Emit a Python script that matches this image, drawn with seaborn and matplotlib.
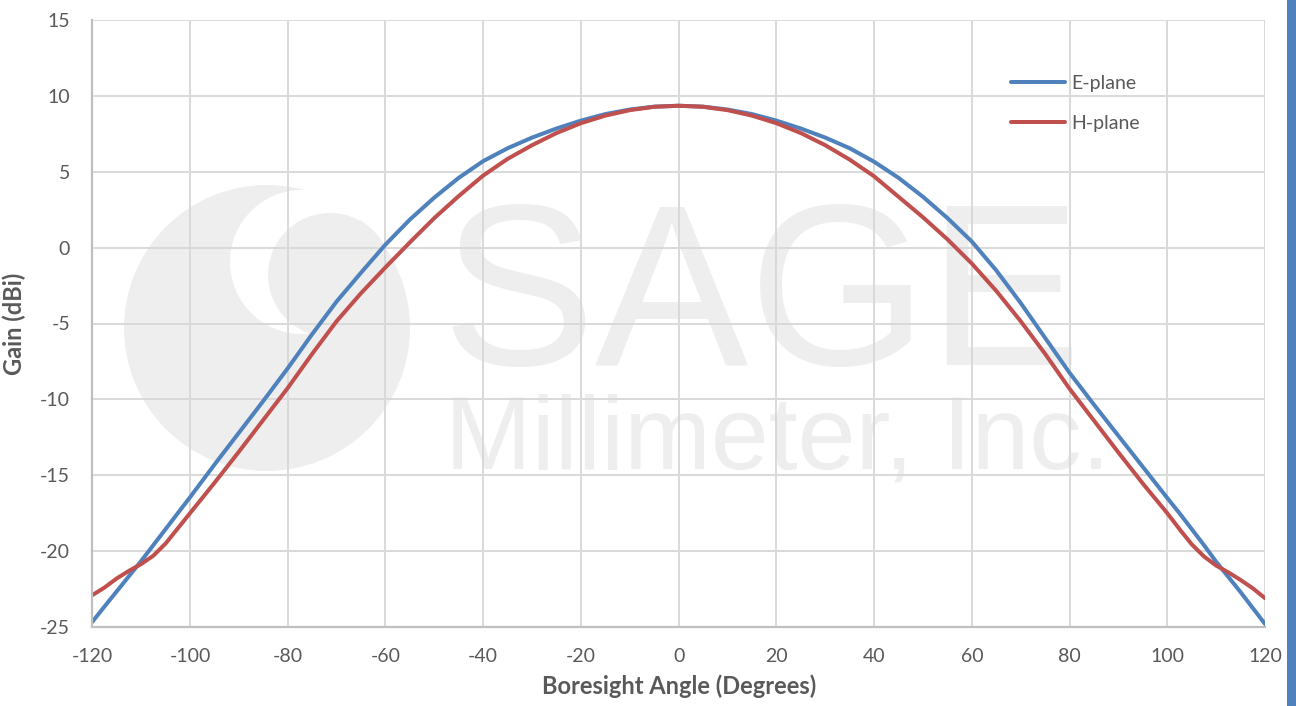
import matplotlib
matplotlib.use("Agg")
import matplotlib.pyplot as plt
import matplotlib.patches as mpatches
from matplotlib.ticker import MultipleLocator
import numpy as np
import pandas as pd
import seaborn as sns

# ---- data ----
angles = [-120, -117.5, -115, -112.5, -110, -107.5, -105, -102.5, -100,
          -95, -90, -85, -80, -75, -70, -65, -60, -55, -50, -45, -40, -35,
          -30, -25, -20, -15, -10, -5, 0, 5, 10, 15, 20, 25, 30, 35, 40, 45,
          50, 55, 60, 65, 70, 75, 80, 85, 90, 95,
          100, 102.5, 105, 107.5, 110, 112.5, 115, 117.5, 120]

e_plane = [-24.66, -23.65, -22.65, -21.65, -20.65, -19.6, -18.55, -17.5, -16.45,
           -14.3, -12.2, -10.1, -7.95, -5.7, -3.55, -1.65, 0.2, 1.85, 3.3, 4.6,
           5.7, 6.55, 7.25, 7.85, 8.37, 8.8, 9.1, 9.29, 9.35, 9.29, 9.1, 8.8, 8.37,
           7.85, 7.25, 6.55, 5.66, 4.6, 3.35, 1.95, 0.4, -1.5, -3.65, -5.95, -8.25,
           -10.35, -12.4, -14.45,
           -16.5, -17.5, -18.55, -19.6, -20.7, -21.7, -22.7, -23.75, -24.8]

h_plane = [-22.9, -22.4, -21.8, -21.3, -20.85, -20.3, -19.5, -18.5, -17.5,
           -15.5, -13.45, -11.35, -9.25, -7.0, -4.85, -3.0, -1.3, 0.35, 1.95, 3.4,
           4.75, 5.85, 6.75, 7.55, 8.2, 8.7, 9.06, 9.28, 9.35, 9.28, 9.06, 8.7,
           8.2, 7.55, 6.75, 5.8, 4.7, 3.35, 2.0, 0.55, -1.05, -2.85, -4.85, -7.0,
           -9.3, -11.4, -13.5, -15.55,
           -17.5, -18.55, -19.55, -20.35, -20.95, -21.4, -21.9, -22.45, -23.1]

series_names = ["E-plane", "H-plane"]
series_colors = {"E-plane": "#4F81BD", "H-plane": "#C0504D"}

x_ticks = list(range(-120, 121, 20))
y_ticks = list(range(-25, 16, 5))
x_label = "Boresight Angle (Degrees)"
y_label = "Gain (dBi)"

df = pd.DataFrame({
    "Angle": angles * 2,
    "Gain": e_plane + h_plane,
    "Plane": [series_names[0]] * len(angles) + [series_names[1]] * len(angles),
})

# ---- figure ----
sns.set_theme(style="white")
plt.rcParams["font.family"] = ["Lato", "DejaVu Sans"]
plt.rcParams["axes.unicode_minus"] = False

W, H = 1296, 706
fig = plt.figure(figsize=(W / 100, H / 100), dpi=100)
fig.patch.set_facecolor("white")

ax = fig.add_axes([92.3 / W, 1 - 627 / H, (1265 - 92.3) / W, (627 - 20) / H])
ax.set_facecolor("none")

# watermark (behind everything)
wm = "#EEEEEE"
fig.patches.append(mpatches.Circle((2.67, (H - 328) / 100), 1.43,
                                   transform=fig.dpi_scale_trans,
                                   facecolor=wm, edgecolor="none", zorder=-10))
fig.patches.append(mpatches.Circle((3.02, (H - 262) / 100), 0.72,
                                   transform=fig.dpi_scale_trans,
                                   facecolor="white", edgecolor="none", zorder=-9))
fig.patches.append(mpatches.Circle((3.30, (H - 275) / 100), 0.62,
                                   transform=fig.dpi_scale_trans,
                                   facecolor=wm, edgecolor="none", zorder=-8))
fig.text(762 / W, 1 - 365 / H, "SAGE", fontsize=166, color=wm,
         family="Liberation Sans", ha="center", va="baseline", zorder=-10)
fig.text(778 / W, 1 - 468 / H, "Millimeter, Inc.", fontsize=75, color=wm,
         family="Liberation Sans", ha="center", va="baseline", zorder=-10)

# right blue bar
fig.patches.append(mpatches.Rectangle((1287 / W, 0), (W - 1287) / W, 1,
                                      transform=fig.transFigure,
                                      facecolor="#4F81BD", edgecolor="none",
                                      zorder=5))

sns.lineplot(data=df, x="Angle", y="Gain", hue="Plane", palette=series_colors,
             linewidth=2.9, ax=ax, legend=False, sort=True)

ax.set_xlim(-120, 120)
ax.set_ylim(-25, 15)
ax.set_xticks(x_ticks)
ax.set_yticks(y_ticks)
ax.xaxis.set_minor_locator(MultipleLocator(4))
ax.yaxis.set_minor_locator(MultipleLocator(1))

ax.grid(True, which="major", color="#D9D9D9", linewidth=1.4, zorder=0)
ax.set_axisbelow(True)

for side in ["top", "right"]:
    ax.spines[side].set_visible(False)
for side in ["left", "bottom"]:
    ax.spines[side].set_color("#BFBFBF")
    ax.spines[side].set_linewidth(1.6)

ax.tick_params(axis="both", which="major", length=0,
               labelsize=14, labelcolor="#595959")
ax.tick_params(axis="both", which="minor", direction="in", length=5,
               width=1.2, color="#BFBFBF")
ax.tick_params(axis="x", which="major", pad=15)
ax.tick_params(axis="y", which="major", pad=16)

ax.set_xlabel(x_label, fontsize=17, fontweight="bold", color="#595959", labelpad=7)
ax.set_ylabel(y_label, fontsize=17, fontweight="bold", color="#595959", labelpad=8)
ax.yaxis.set_label_coords(-(92.3 - 26) / (1265 - 92.3), 0.5)

handles = [plt.Line2D([], [], color=series_colors[n], linewidth=2.9) for n in series_names]
leg = ax.legend(handles, series_names, loc="upper left",
                bbox_to_anchor=((1003 - 92.3) / (1265 - 92.3), (627 - 67) / (627 - 20)),
                frameon=False, fontsize=14, handlelength=2.8, handletextpad=0.3,
                labelspacing=1.2, borderaxespad=0)
for t in leg.get_texts():
    t.set_color("#595959")

fig.savefig("out.png", dpi=100, facecolor="white")
